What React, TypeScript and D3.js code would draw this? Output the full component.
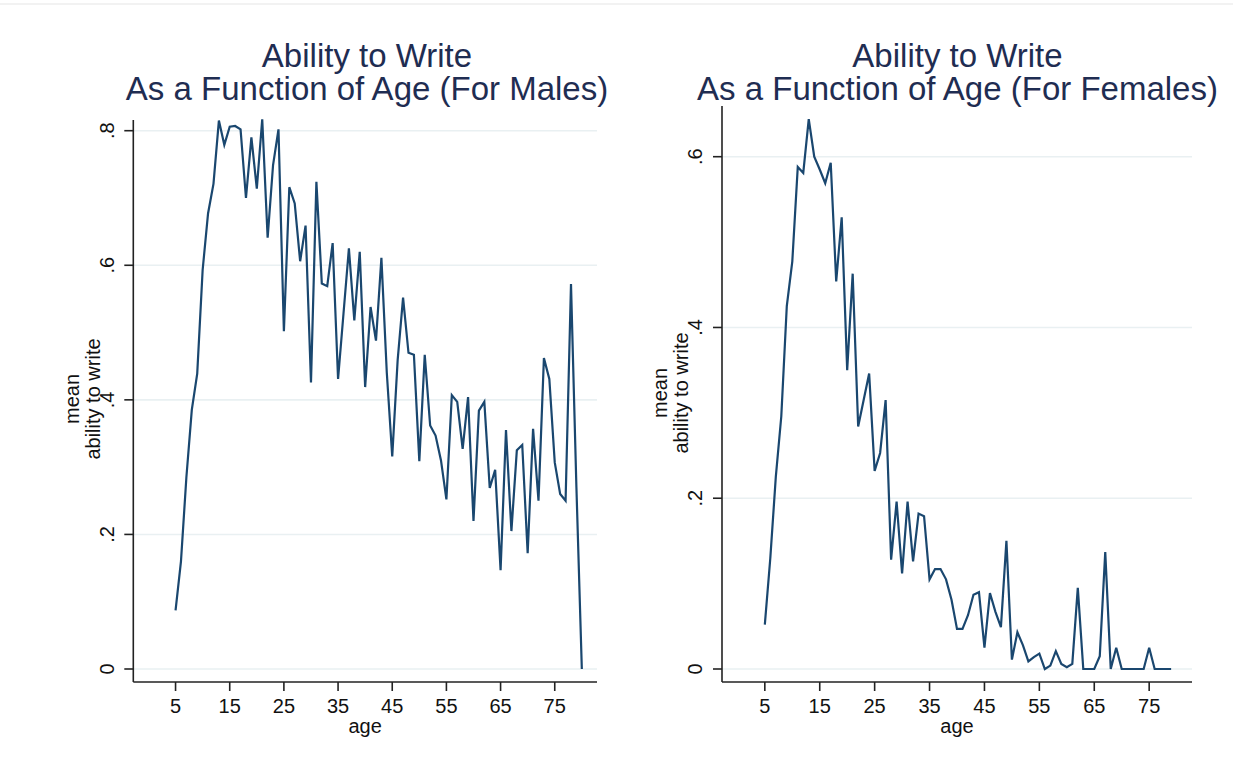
import * as d3 from "d3";

// mean ability to write, by age
const maleAges = [
  5, 6, 7, 8, 9, 10, 11, 12, 13, 14, 15, 16, 17, 18, 19, 20, 21, 22, 23, 24,
  25, 26, 27, 28, 29, 30, 31, 32, 33, 34, 35, 36, 37, 38, 39, 40, 41, 42, 43,
  44, 45, 46, 47, 48, 49, 50, 51, 52, 53, 54, 55, 56, 57, 58, 59, 60, 61, 62,
  63, 64, 65, 66, 67, 68, 69, 70, 71, 72, 73, 74, 75, 76, 77, 78, 79, 80,
];
const maleWrite = [
  0.087, 0.16, 0.285, 0.385, 0.439, 0.593, 0.677, 0.721, 0.815, 0.779, 0.806,
  0.807, 0.802, 0.7, 0.79, 0.714, 0.817, 0.641, 0.749, 0.802, 0.502, 0.716,
  0.692, 0.606, 0.659, 0.426, 0.724, 0.573, 0.569, 0.633, 0.431, 0.528, 0.625,
  0.518, 0.62, 0.419, 0.538, 0.488, 0.611, 0.44, 0.316, 0.459, 0.552, 0.47,
  0.467, 0.309, 0.467, 0.362, 0.347, 0.31, 0.252, 0.407, 0.397, 0.327, 0.404,
  0.22, 0.384, 0.397, 0.269, 0.296, 0.147, 0.355, 0.205, 0.325, 0.333, 0.172,
  0.357, 0.25, 0.462, 0.431, 0.307, 0.26, 0.25, 0.572, 0.27, 0,
];

const femaleAges = [
  5, 6, 7, 8, 9, 10, 11, 12, 13, 14, 15, 16, 17, 18, 19, 20, 21, 22, 23, 24,
  25, 26, 27, 28, 29, 30, 31, 32, 33, 34, 35, 36, 37, 38, 39, 40, 41, 42, 43,
  44, 45, 46, 47, 48, 49, 50, 51, 52, 53, 54, 55, 56, 57, 58, 59, 60, 61, 62,
  63, 64, 65, 66, 67, 68, 69, 70, 71, 72, 73, 74, 75, 76, 77, 78, 79,
];
const femaleWrite = [
  0.052, 0.13, 0.225, 0.296, 0.425, 0.477, 0.588, 0.581, 0.644, 0.6, 0.585,
  0.569, 0.593, 0.454, 0.529, 0.35, 0.463, 0.284, 0.315, 0.346, 0.232, 0.253,
  0.315, 0.128, 0.196, 0.112, 0.196, 0.126, 0.182, 0.179, 0.105, 0.117, 0.117,
  0.105, 0.081, 0.047, 0.047, 0.063, 0.087, 0.09, 0.025, 0.089, 0.067, 0.049,
  0.15, 0.011, 0.043, 0.028, 0.009, 0.014, 0.018, 0, 0.004, 0.021, 0.006,
  0.002, 0.006, 0.095, 0, 0, 0, 0.015, 0.137, 0, 0.025, 0, 0, 0, 0, 0, 0.025,
  0, 0, 0, 0,
];

const xTicks = [5, 15, 25, 35, 45, 55, 65, 75];
const maleYTicks = [0, 0.2, 0.4, 0.6, 0.8];
const femaleYTicks = [0, 0.2, 0.4, 0.6];

const FONT = "Arial, 'Liberation Sans', Helvetica, sans-serif";
const LINE = "#1a476f";
const GRID = "#e9f0f2";
const TITLE = "#1f2d52";

const fmtTick = (v) => (v === 0 ? "0" : d3.format(".1f")(v).replace(/^0/, ""));

const Panel = ({ title, ages, values, yTicks, yMax, x0, x1, yTopPx, axisTop, titleX, yTitleY }) => {
  const baseY = 669;
  const axisY = 682;

  const x = d3.scaleLinear().domain([-2.8, 82.8]).range([x0, x1]);
  const y = d3.scaleLinear().domain([0, yMax]).range([baseY, yTopPx]);

  const line = d3
    .line()
    .x((d) => x(d[0]))
    .y((d) => y(d[1]));

  const pts = ages.map((a, i) => [a, values[i]]);

  return (
    <g fontFamily={FONT}>
      {/* titel */}
      {title.map((t, i) => (
        <text
          key={i}
          x={titleX}
          y={67 + i * 33}
          textAnchor="middle"
          fontSize={33}
          fill={TITLE}
        >
          {t}
        </text>
      ))}

      {/* grid */}
      {yTicks.map((t) => (
        <line
          key={t}
          x1={x0}
          x2={x1}
          y1={y(t)}
          y2={y(t)}
          stroke={GRID}
          strokeWidth={1.6}
        />
      ))}

      <path d={line(pts)} fill="none" stroke={LINE} strokeWidth={2.2} strokeLinejoin="miter" />

      {/* axes */}
      <line x1={x0} x2={x0} y1={axisTop} y2={axisY} stroke="#222" strokeWidth={1.6} />
      <line x1={x0} x2={x1} y1={axisY} y2={axisY} stroke="#222" strokeWidth={1.6} />

      {yTicks.map((t) => (
        <g key={t}>
          <line x1={x0 - 9} x2={x0} y1={y(t)} y2={y(t)} stroke="#222" strokeWidth={1.6} />
          <text
            transform={`translate(${x0 - 27},${y(t)}) rotate(-90)`}
            textAnchor="middle"
            dy="0.36em"
            fontSize={20}
            fill="#111"
          >
            {fmtTick(t)}
          </text>
        </g>
      ))}

      {xTicks.map((t) => (
        <g key={t}>
          <line x1={x(t)} x2={x(t)} y1={axisY} y2={axisY + 9} stroke="#222" strokeWidth={1.6} />
          <text x={x(t)} y={713} textAnchor="middle" fontSize={20} fill="#111">
            {t}
          </text>
        </g>
      ))}

      <text x={(x0 + x1) / 2} y={733} textAnchor="middle" fontSize={20} fill="#111">
        age
      </text>

      <text
        transform={`translate(${x0 - 62},${yTitleY}) rotate(-90)`}
        textAnchor="middle"
        dy="0.36em"
        fontSize={20}
        fill="#111"
      >
        mean
      </text>
      <text
        transform={`translate(${x0 - 41},${yTitleY}) rotate(-90)`}
        textAnchor="middle"
        dy="0.36em"
        fontSize={20}
        fill="#111"
      >
        ability to write
      </text>
    </g>
  );
};

export default function App() {
  return (
    <svg
      width={1233}
      height={777}
      style={{ position: "absolute", left: 0, top: 0, background: "#fff" }}
    >
      <rect width={1233} height={777} fill="#fff" />
      <line x1={0} x2={1233} y1={4} y2={4} stroke="#eeeeee" strokeWidth={1.5} />
      <Panel
        title={["Ability to Write", "As a Function of Age (For Males)"]}
        ages={maleAges}
        values={maleWrite}
        yTicks={maleYTicks}
        yMax={0.8}
        x0={133.3}
        x1={597}
        yTopPx={130.7}
        axisTop={120}
        titleX={367}
        yTitleY={399}
      />
      <Panel
        title={["Ability to Write", "As a Function of Age (For Females)"]}
        ages={femaleAges}
        values={femaleWrite}
        yTicks={femaleYTicks}
        yMax={0.6}
        x0={722}
        x1={1192}
        yTopPx={156.7}
        axisTop={106}
        titleX={957.5}
        yTitleY={393}
      />
    </svg>
  );
}
